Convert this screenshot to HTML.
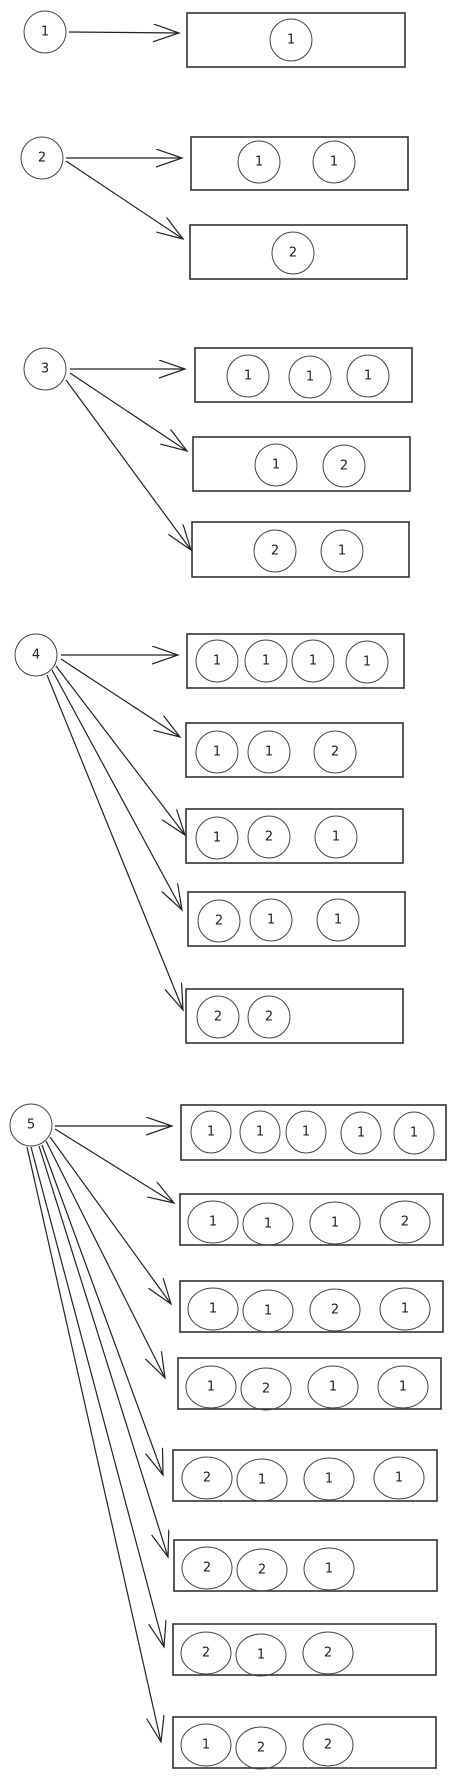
<!DOCTYPE html>
<html><head><meta charset="utf-8"><style>
html,body{margin:0;padding:0;background:#fff;}
svg{display:block;}
text{font-family:"DejaVu Sans","Liberation Sans",sans-serif;font-size:13px;fill:#222;text-anchor:middle;dominant-baseline:central;}
.b{fill:none;stroke:#333;stroke-width:1.6;}
.c{fill:none;stroke:#444;stroke-width:1;}
.a{fill:none;stroke:#222;stroke-width:1.2;marker-end:url(#m);}
</style></head><body>
<svg width="456" height="1778" viewBox="0 0 456 1778" xmlns="http://www.w3.org/2000/svg">
<defs><marker id="m" markerUnits="userSpaceOnUse" markerWidth="30" markerHeight="20" refX="26" refY="9" orient="auto"><path d="M0,0 L26,9 L0,18" fill="none" stroke="#222" stroke-width="1.2"/></marker></defs>

<!-- 1 -->
<circle class="c" cx="45" cy="32" r="21"/><text x="45" y="32">1</text>
<line class="a" x1="69" y1="32" x2="179" y2="33"/>
<rect class="b" x="187" y="13" width="218" height="54"/>
<circle class="c" cx="291" cy="40" r="21"/><text x="291" y="40">1</text>

<!-- 2 -->
<circle class="c" cx="42" cy="158" r="21"/><text x="42" y="158">2</text>
<line class="a" x1="66" y1="158" x2="182" y2="158"/>
<line class="a" x1="66" y1="161" x2="183" y2="239"/>
<rect class="b" x="191" y="137" width="217" height="53"/>
<circle class="c" cx="259" cy="162" r="21"/><text x="259" y="162">1</text>
<circle class="c" cx="334" cy="162" r="21"/><text x="334" y="162">1</text>
<rect class="b" x="190" y="225" width="217" height="54"/>
<circle class="c" cx="293" cy="253" r="21"/><text x="293" y="253">2</text>

<!-- 3 -->
<circle class="c" cx="45" cy="369" r="21"/><text x="45" y="369">3</text>
<line class="a" x1="70" y1="369" x2="185" y2="369"/>
<line class="a" x1="70" y1="373" x2="187" y2="451"/>
<line class="a" x1="66" y1="380" x2="191" y2="550"/>
<rect class="b" x="195" y="348" width="217" height="54"/>
<circle class="c" cx="248" cy="376" r="21"/><text x="248" y="376">1</text>
<circle class="c" cx="310" cy="377" r="21"/><text x="310" y="377">1</text>
<circle class="c" cx="368" cy="376" r="21"/><text x="368" y="376">1</text>
<rect class="b" x="193" y="437" width="217" height="54"/>
<circle class="c" cx="276" cy="465" r="21"/><text x="276" y="465">1</text>
<circle class="c" cx="344" cy="466" r="21"/><text x="344" y="466">2</text>
<rect class="b" x="192" y="522" width="217" height="55"/>
<circle class="c" cx="275" cy="551" r="21"/><text x="275" y="551">2</text>
<circle class="c" cx="342" cy="551" r="21"/><text x="342" y="551">1</text>

<!-- 4 -->
<circle class="c" cx="36" cy="655" r="21"/><text x="36" y="655">4</text>
<line class="a" x1="61" y1="655" x2="178" y2="655"/>
<line class="a" x1="61" y1="659" x2="180" y2="737"/>
<line class="a" x1="56" y1="666" x2="185" y2="835"/>
<line class="a" x1="52" y1="670" x2="182" y2="910"/>
<line class="a" x1="47" y1="675" x2="183" y2="1010"/>
<rect class="b" x="187" y="634" width="217" height="54"/>
<circle class="c" cx="217" cy="661" r="21"/><text x="217" y="661">1</text>
<circle class="c" cx="266" cy="661" r="21"/><text x="266" y="661">1</text>
<circle class="c" cx="313" cy="661" r="21"/><text x="313" y="661">1</text>
<circle class="c" cx="367" cy="662" r="21"/><text x="367" y="662">1</text>
<rect class="b" x="186" y="723" width="217" height="54"/>
<circle class="c" cx="217" cy="752" r="21"/><text x="217" y="752">1</text>
<circle class="c" cx="269" cy="752" r="21"/><text x="269" y="752">1</text>
<circle class="c" cx="335" cy="752" r="21"/><text x="335" y="752">2</text>
<rect class="b" x="186" y="809" width="217" height="54"/>
<circle class="c" cx="217" cy="838" r="21"/><text x="217" y="838">1</text>
<circle class="c" cx="269" cy="837" r="21"/><text x="269" y="837">2</text>
<circle class="c" cx="336" cy="837" r="21"/><text x="336" y="837">1</text>
<rect class="b" x="188" y="892" width="217" height="54"/>
<circle class="c" cx="219" cy="921" r="21"/><text x="219" y="921">2</text>
<circle class="c" cx="271" cy="920" r="21"/><text x="271" y="920">1</text>
<circle class="c" cx="338" cy="920" r="21"/><text x="338" y="920">1</text>
<rect class="b" x="186" y="989" width="217" height="54"/>
<circle class="c" cx="218" cy="1017" r="21"/><text x="218" y="1017">2</text>
<circle class="c" cx="269" cy="1017" r="21"/><text x="269" y="1017">2</text>

<!-- 5 -->
<circle class="c" cx="31" cy="1125" r="21"/><text x="31" y="1125">5</text>
<line class="a" x1="55" y1="1126" x2="172" y2="1126"/>
<line class="a" x1="55" y1="1129" x2="174" y2="1203"/>
<line class="a" x1="50" y1="1137" x2="171" y2="1304"/>
<line class="a" x1="46" y1="1141" x2="165" y2="1378"/>
<line class="a" x1="42" y1="1145" x2="163" y2="1475"/>
<line class="a" x1="39" y1="1146" x2="168" y2="1557"/>
<line class="a" x1="31" y1="1147" x2="164" y2="1647"/>
<line class="a" x1="27" y1="1147" x2="161" y2="1742"/>

<rect class="b" x="181" y="1105" width="265" height="55"/>
<ellipse class="c" cx="211" cy="1132" rx="20" ry="21"/><text x="211" y="1132">1</text>
<ellipse class="c" cx="260" cy="1132" rx="20" ry="21"/><text x="260" y="1132">1</text>
<ellipse class="c" cx="306" cy="1132" rx="20" ry="21"/><text x="306" y="1132">1</text>
<ellipse class="c" cx="361" cy="1133" rx="20" ry="21"/><text x="361" y="1133">1</text>
<ellipse class="c" cx="414" cy="1133" rx="20" ry="21"/><text x="414" y="1133">1</text>

<rect class="b" x="180" y="1194" width="263" height="51"/>
<ellipse class="c" cx="213" cy="1222" rx="25" ry="21"/><text x="213" y="1222">1</text>
<ellipse class="c" cx="268" cy="1224" rx="25" ry="21"/><text x="268" y="1224">1</text>
<ellipse class="c" cx="335" cy="1223" rx="25" ry="21"/><text x="335" y="1223">1</text>
<ellipse class="c" cx="405" cy="1222" rx="25" ry="21"/><text x="405" y="1222">2</text>

<rect class="b" x="180" y="1281" width="263" height="51"/>
<ellipse class="c" cx="213" cy="1309" rx="25" ry="21"/><text x="213" y="1309">1</text>
<ellipse class="c" cx="268" cy="1311" rx="25" ry="21"/><text x="268" y="1311">1</text>
<ellipse class="c" cx="335" cy="1310" rx="25" ry="21"/><text x="335" y="1310">2</text>
<ellipse class="c" cx="405" cy="1309" rx="25" ry="21"/><text x="405" y="1309">1</text>

<rect class="b" x="178" y="1358" width="263" height="51"/>
<ellipse class="c" cx="211" cy="1387" rx="25" ry="21"/><text x="211" y="1387">1</text>
<ellipse class="c" cx="266" cy="1389" rx="25" ry="21"/><text x="266" y="1389">2</text>
<ellipse class="c" cx="333" cy="1387" rx="25" ry="21"/><text x="333" y="1387">1</text>
<ellipse class="c" cx="403" cy="1387" rx="25" ry="21"/><text x="403" y="1387">1</text>

<rect class="b" x="173" y="1450" width="264" height="51"/>
<ellipse class="c" cx="207" cy="1478" rx="25" ry="21"/><text x="207" y="1478">2</text>
<ellipse class="c" cx="262" cy="1480" rx="25" ry="21"/><text x="262" y="1480">1</text>
<ellipse class="c" cx="329" cy="1479" rx="25" ry="21"/><text x="329" y="1479">1</text>
<ellipse class="c" cx="399" cy="1478" rx="25" ry="21"/><text x="399" y="1478">1</text>

<rect class="b" x="174" y="1540" width="263" height="51"/>
<ellipse class="c" cx="207" cy="1568" rx="25" ry="21"/><text x="207" y="1568">2</text>
<ellipse class="c" cx="262" cy="1570" rx="25" ry="21"/><text x="262" y="1570">2</text>
<ellipse class="c" cx="329" cy="1569" rx="25" ry="21"/><text x="329" y="1569">1</text>

<rect class="b" x="173" y="1624" width="263" height="51"/>
<ellipse class="c" cx="206" cy="1653" rx="25" ry="21"/><text x="206" y="1653">2</text>
<ellipse class="c" cx="261" cy="1655" rx="25" ry="21"/><text x="261" y="1655">1</text>
<ellipse class="c" cx="328" cy="1653" rx="25" ry="21"/><text x="328" y="1653">2</text>

<rect class="b" x="173" y="1717" width="263" height="51"/>
<ellipse class="c" cx="206" cy="1745" rx="25" ry="21"/><text x="206" y="1745">1</text>
<ellipse class="c" cx="261" cy="1748" rx="25" ry="21"/><text x="261" y="1748">2</text>
<ellipse class="c" cx="328" cy="1745" rx="25" ry="21"/><text x="328" y="1745">2</text>
</svg>
</body></html>
